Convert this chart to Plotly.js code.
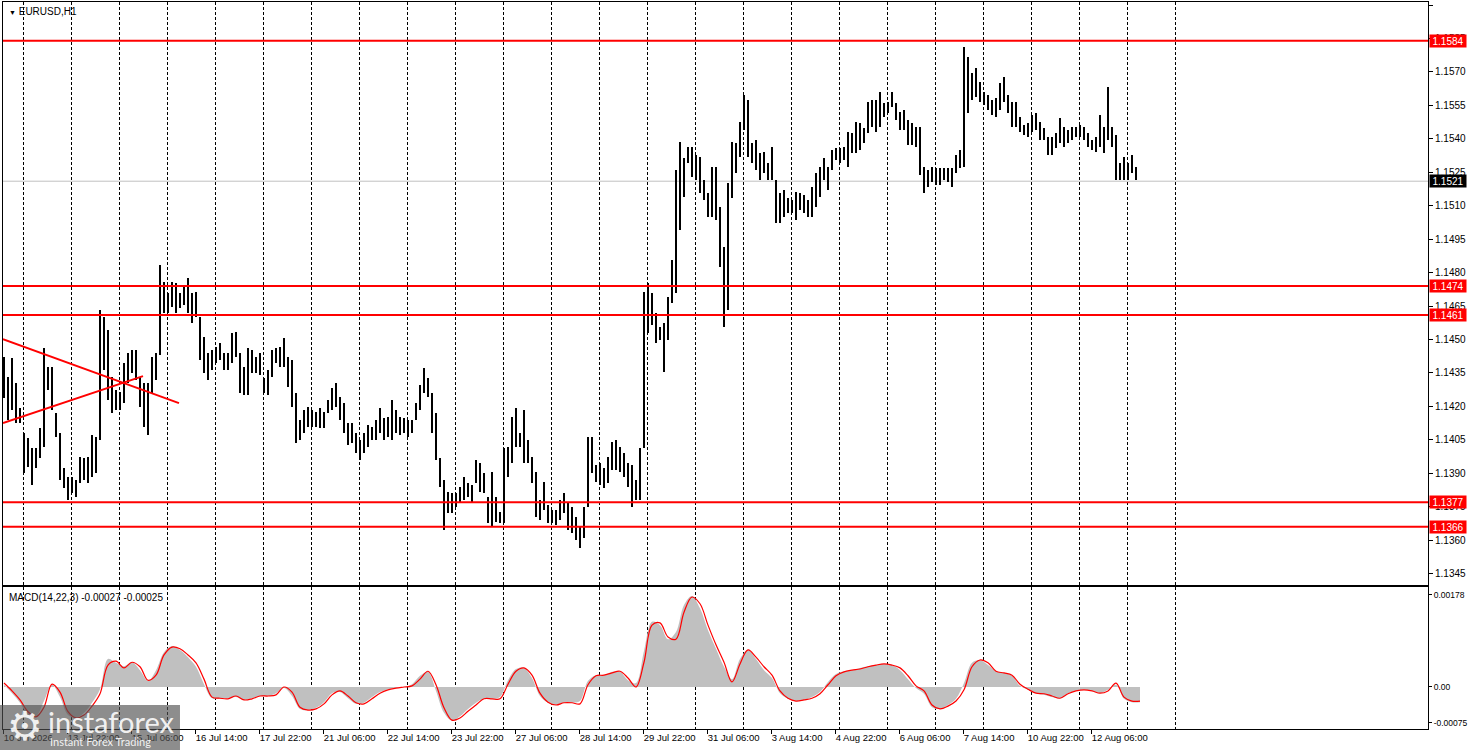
<!DOCTYPE html>
<html><head><meta charset="utf-8">
<script src="https://cdn.plot.ly/plotly-3.0.1.min.js"></script>
<style>html,body{margin:0;padding:0;background:#fff;}#chart{width:1468px;height:750px;}</style>
</head><body><div id="chart"></div>
<script>
const symbolTitle = "EURUSD,H1";
// 2-hour bars (high / low)
const highs = [
1.14422,1.14332,1.14417,1.14305,1.14193,1.14081,1.14058,1.14014,1.14014,1.14103,
1.14462,1.14377,1.14377,1.14171,1.14081,1.13924,1.13884,1.13884,1.13870,1.13973,
1.13969,1.13973,1.14072,1.14063,1.14632,1.14601,1.14543,1.14332,1.14274,1.14265,
1.14395,1.14440,1.14453,1.14453,1.14332,1.14305,1.14305,1.14422,1.14440,1.14834,
1.14758,1.14709,1.14758,1.14753,1.14709,1.14736,1.14776,1.14709,1.14713,1.14601,
1.14511,1.14440,1.14453,1.14466,1.14484,1.14440,1.14440,1.14529,1.14534,1.14440,
1.14377,1.14462,1.14453,1.14422,1.14440,1.14327,1.14363,1.14453,1.14462,1.14466,
1.14507,1.14422,1.14408,1.14260,1.14139,1.14184,1.14197,1.14184,1.14175,1.14193,
1.14175,1.14229,1.14283,1.14305,1.14242,1.14215,1.14126,1.14126,1.14081,1.14049,
1.14081,1.14117,1.14108,1.14139,1.14193,1.14148,1.14153,1.14229,1.14184,1.14153,
1.14148,1.14139,1.14139,1.14215,1.14296,1.14372,1.14327,1.14260,1.14171,1.13969,
1.13870,1.13816,1.13812,1.13812,1.13839,1.13884,1.13857,1.13848,1.13960,1.13946,
1.13901,1.13794,1.13906,1.13794,1.13727,1.14014,1.14018,1.14153,1.14193,1.14081,
1.14184,1.14049,1.13973,1.13906,1.13780,1.13861,1.13758,1.13736,1.13736,1.13780,
1.13812,1.13767,1.13749,1.13704,1.13659,1.13749,1.14063,1.14063,1.13937,1.13946,
1.13924,1.13973,1.14040,1.14049,1.14018,1.13991,1.13946,1.13937,1.13870,1.14014,
1.14713,1.14753,1.14709,1.14619,1.14556,1.14574,1.14691,1.14857,1.15260,1.15386,
1.15314,1.15363,1.15363,1.15327,1.15318,1.15215,1.15157,1.15274,1.15274,1.15094,
1.14915,1.15202,1.15386,1.15381,1.15475,1.15596,1.15574,1.15381,1.15395,1.15336,
1.15341,1.15292,1.15363,1.15215,1.15157,1.15170,1.15135,1.15126,1.15161,1.15157,
1.15148,1.15126,1.15184,1.15247,1.15274,1.15314,1.15274,1.15350,1.15359,1.15359,
1.15363,1.15431,1.15426,1.15475,1.15471,1.15448,1.15565,1.15574,1.15574,1.15610,
1.15561,1.15565,1.15610,1.15561,1.15520,1.15529,1.15484,1.15471,1.15453,1.15453,
1.15274,1.15260,1.15274,1.15269,1.15269,1.15269,1.15269,1.15269,1.15327,1.15350,
1.15812,1.15767,1.15695,1.15718,1.15655,1.15610,1.15596,1.15574,1.15583,1.15650,
1.15677,1.15596,1.15565,1.15565,1.15498,1.15462,1.15471,1.15507,1.15516,1.15475,
1.15448,1.15408,1.15408,1.15426,1.15493,1.15453,1.15439,1.15453,1.15453,1.15462,
1.15453,1.15426,1.15395,1.15408,1.15507,1.15453,1.15632,1.15453,1.15417,1.15292,
1.15318,1.15292,1.15327,1.15274
];
const lows = [
1.14238,1.14139,1.14184,1.14126,1.14126,1.13901,1.13928,1.13848,1.13924,1.13969,
1.14018,1.14274,1.14184,1.14063,1.13870,1.13834,1.13780,1.13812,1.13794,1.13857,
1.13870,1.13857,1.13884,1.13901,1.14049,1.14363,1.14229,1.14171,1.14184,1.14184,
1.14215,1.14305,1.14350,1.14318,1.14197,1.14108,1.14072,1.14260,1.14318,1.14431,
1.14619,1.14619,1.14646,1.14619,1.14641,1.14655,1.14619,1.14574,1.14601,1.14408,
1.14350,1.14318,1.14363,1.14395,1.14408,1.14363,1.14363,1.14395,1.14422,1.14260,
1.14251,1.14251,1.14350,1.14350,1.14341,1.14260,1.14251,1.14332,1.14395,1.14377,
1.14377,1.14287,1.14197,1.14036,1.14049,1.14081,1.14108,1.14108,1.14108,1.14103,
1.14103,1.14171,1.14184,1.14197,1.14139,1.14081,1.14027,1.14036,1.13991,1.13960,
1.13991,1.14018,1.14049,1.14049,1.14081,1.14049,1.14063,1.14049,1.14081,1.14072,
1.14081,1.14063,1.14081,1.14139,1.14184,1.14260,1.14242,1.14081,1.13960,1.13839,
1.13646,1.13722,1.13722,1.13749,1.13767,1.13780,1.13794,1.13767,1.13857,1.13816,
1.13812,1.13677,1.13659,1.13682,1.13677,1.13677,1.13884,1.13946,1.14018,1.14018,
1.13946,1.13946,1.13857,1.13704,1.13691,1.13736,1.13677,1.13677,1.13668,1.13691,
1.13722,1.13646,1.13632,1.13601,1.13565,1.13610,1.13749,1.13901,1.13861,1.13848,
1.13834,1.13857,1.13915,1.13915,1.13906,1.13884,1.13839,1.13749,1.13780,1.13780,
1.14014,1.14529,1.14565,1.14484,1.14498,1.14354,1.14498,1.14664,1.14709,1.14991,
1.15139,1.15292,1.15229,1.15215,1.15157,1.15126,1.15049,1.15049,1.15036,1.14825,
1.14556,1.14632,1.15135,1.15247,1.15318,1.15439,1.15318,1.15292,1.15260,1.15215,
1.15247,1.15215,1.15215,1.15022,1.15022,1.15049,1.15067,1.15067,1.15036,1.15081,
1.15067,1.15049,1.15049,1.15094,1.15139,1.15215,1.15170,1.15260,1.15305,1.15292,
1.15305,1.15274,1.15336,1.15336,1.15350,1.15381,1.15426,1.15453,1.15431,1.15453,
1.15498,1.15516,1.15543,1.15484,1.15439,1.15439,1.15372,1.15372,1.15363,1.15238,
1.15157,1.15184,1.15206,1.15193,1.15193,1.15215,1.15206,1.15184,1.15247,1.15269,
1.15274,1.15516,1.15574,1.15587,1.15565,1.15552,1.15529,1.15507,1.15498,1.15529,
1.15565,1.15516,1.15453,1.15453,1.15431,1.15417,1.15408,1.15431,1.15439,1.15395,
1.15395,1.15327,1.15327,1.15359,1.15381,1.15363,1.15381,1.15395,1.15408,1.15408,
1.15395,1.15363,1.15350,1.15341,1.15363,1.15336,1.15395,1.15363,1.15215,1.15215,
1.15215,1.15215,1.15247,1.15215
];
// horizontal support / resistance levels and current bid
const levels = [1.1584, 1.1474, 1.1461, 1.1377, 1.1366];
const currentPrice = 1.1521;
// two hand-drawn trend lines (hour index, price)
const trendAHours = [-0.5, 87.5];
const trendAPrices = [1.14502, 1.14215];
const trendBHours = [-0.5, 69.5];
const trendBPrices = [1.14126, 1.14336];
// price axis ticks
const priceTicks = [1.1345,1.1360,1.1375,1.1390,1.1405,1.1420,1.1435,1.1450,1.1465,1.1480,1.1495,1.1510,1.1525,1.1540,1.1555,1.1570,1.1585,1.1600];
// time axis labels (every 32 hourly bars)
const timeLabels = ["10 Jul 2026","13 Jul 22:00","15 Jul 06:00","16 Jul 14:00","17 Jul 22:00","21 Jul 06:00","22 Jul 14:00","23 Jul 22:00","27 Jul 06:00","28 Jul 14:00","29 Jul 22:00","31 Jul 06:00","3 Aug 14:00","4 Aug 22:00","6 Aug 06:00","7 Aug 14:00","10 Aug 22:00","12 Aug 06:00"];
// MACD(14,22,3), sampled every 4 hours
const macdHist = [
0.00004,-0.00011,-0.00028,-0.00050,-0.00052,-0.00025,0.00004,-0.00018,-0.00050,-0.00055,
-0.00046,-0.00028,-0.00004,0.00050,0.00043,0.00037,0.00044,0.00030,0.00011,0.00030,
0.00062,0.00073,0.00066,0.00053,0.00036,0.00005,-0.00020,-0.00020,-0.00020,-0.00018,
-0.00023,-0.00020,-0.00016,-0.00016,-0.00011,-0.00002,-0.00016,-0.00039,-0.00041,-0.00037,
-0.00027,-0.00011,-0.00009,-0.00020,-0.00030,-0.00028,-0.00018,-0.00009,-0.00004,-0.00002,
0.00000,0.00005,0.00020,0.00027,-0.00007,-0.00046,-0.00060,-0.00052,-0.00039,-0.00028,
-0.00021,-0.00021,-0.00018,0.00012,0.00032,0.00034,0.00016,-0.00016,-0.00028,-0.00032,
-0.00028,-0.00028,-0.00025,0.00011,0.00021,0.00021,0.00027,0.00027,0.00012,0.00007,
0.00064,0.00116,0.00110,0.00085,0.00098,0.00146,0.00162,0.00140,0.00101,0.00068,
0.00036,0.00014,0.00050,0.00066,0.00050,0.00030,0.00016,-0.00011,-0.00021,-0.00025,
-0.00023,-0.00018,-0.00009,0.00009,0.00023,0.00028,0.00030,0.00034,0.00037,0.00039,
0.00041,0.00039,0.00030,0.00014,-0.00002,-0.00012,-0.00036,-0.00039,-0.00032,-0.00021,
0.00007,0.00043,0.00048,0.00039,0.00028,0.00025,0.00020,0.00002,-0.00005,-0.00011,
-0.00014,-0.00018,-0.00020,-0.00011,-0.00007,-0.00005,-0.00007,-0.00011,-0.00005,0.00004,
-0.00021,-0.00027,-0.00027
];
const macdSignal = [
0.00007,-0.00007,-0.00023,-0.00044,-0.00053,-0.00036,0.00005,-0.00009,-0.00044,-0.00055,
-0.00050,-0.00034,-0.00012,0.00039,0.00046,0.00034,0.00044,0.00036,0.00012,0.00021,
0.00057,0.00071,0.00068,0.00057,0.00043,0.00014,-0.00018,-0.00020,-0.00021,-0.00016,
-0.00023,-0.00021,-0.00016,-0.00016,-0.00014,0.00000,-0.00009,-0.00036,-0.00041,-0.00039,
-0.00030,-0.00014,-0.00007,-0.00016,-0.00028,-0.00030,-0.00021,-0.00011,-0.00005,-0.00002,
0.00000,0.00002,0.00014,0.00028,0.00004,-0.00037,-0.00059,-0.00055,-0.00043,-0.00032,
-0.00021,-0.00021,-0.00021,0.00005,0.00028,0.00034,0.00021,-0.00011,-0.00027,-0.00032,
-0.00028,-0.00028,-0.00030,0.00004,0.00020,0.00021,0.00025,0.00028,0.00016,0.00000,
0.00044,0.00110,0.00114,0.00089,0.00085,0.00133,0.00160,0.00148,0.00110,0.00075,
0.00044,0.00009,0.00041,0.00066,0.00053,0.00036,0.00021,-0.00007,-0.00020,-0.00025,
-0.00023,-0.00020,-0.00012,0.00004,0.00020,0.00027,0.00030,0.00032,0.00036,0.00039,
0.00041,0.00039,0.00034,0.00020,0.00002,-0.00007,-0.00032,-0.00039,-0.00034,-0.00025,
-0.00005,0.00036,0.00048,0.00043,0.00028,0.00025,0.00021,0.00005,-0.00004,-0.00011,
-0.00012,-0.00016,-0.00020,-0.00012,-0.00007,-0.00005,-0.00007,-0.00011,-0.00007,0.00007,
-0.00018,-0.00025,-0.00025
];
const macdTickText = ["0.00178","0.00","-0.00075"];

// ---------- build ----------
const FONT = "Liberation Sans, Arial, sans-serif";
const barHours = highs.map((_, k) => 2 * k);
const macdHours = macdHist.map((_, j) => 4 * j);
const labelHours = timeLabels.map((_, k) => -0.4 + 32 * k);
const gridHours = [];
for (let k = 0; k <= 24; k++) gridHours.push(9.5 + 24 * k);
const XR = [-0.5, 712];

const traces = [
  {type:'bar', x:barHours, base:lows, y:highs.map((h,k)=>h-lows[k]), width:1,
   marker:{color:'#000', line:{width:0}}, xaxis:'x', yaxis:'y', hoverinfo:'skip'},
  {type:'scatter', mode:'lines', x:trendAHours, y:trendAPrices, line:{color:'#ff0000', width:2}, xaxis:'x', yaxis:'y', hoverinfo:'skip'},
  {type:'scatter', mode:'lines', x:trendBHours, y:trendBPrices, line:{color:'#ff0000', width:2}, xaxis:'x', yaxis:'y', hoverinfo:'skip'},
  {type:'scatter', mode:'lines', x:macdHours, y:macdHist, fill:'tozeroy', fillcolor:'#c0c0c0',
   line:{width:0, color:'#c0c0c0', shape:'spline'}, xaxis:'x2', yaxis:'y2', hoverinfo:'skip'},
  {type:'scatter', mode:'lines', x:macdHours, y:macdSignal, line:{color:'#ff0000', width:1.2, shape:'spline'},
   xaxis:'x2', yaxis:'y2', hoverinfo:'skip'},
  {type:'scatter', mode:'markers', x:[labelHours[1]], y:[0], marker:{opacity:0}, xaxis:'x3', yaxis:'y2', hoverinfo:'skip'}
];

const shapes = [];
shapes.push({type:'line', xref:'paper', x0:0, x1:1, yref:'y', y0:currentPrice, y1:currentPrice,
  line:{color:'#c0c0c0', width:1}, layer:'below'});
levels.forEach(v => shapes.push({type:'line', xref:'paper', x0:0, x1:1, yref:'y', y0:v, y1:v,
  line:{color:'#ff0000', width:2}, layer:'above'}));
// watermark box
shapes.push({type:'rect', xref:'paper', yref:'paper', x0:-0.0021, x1:0.1242, y0:-0.03, y1:0.033,
  fillcolor:'rgba(80,80,80,0.65)', line:{width:0}, layer:'above'});

const fmt = v => (v < 0 ? '-' : '') + Math.abs(v).toFixed(5);
const annotations = [];
annotations.push({xref:'paper', yref:'paper', x:0, y:1, xanchor:'left', yanchor:'top', xshift:4, yshift:-2,
  text:'<span style="font-size:7px">▼</span> ' + symbolTitle, showarrow:false, font:{family:FONT, size:10, color:'#000'}});
annotations.push({xref:'paper', yref:'y2 domain', x:0, y:1, xanchor:'left', yanchor:'top', xshift:4, yshift:-3,
  text:'MACD(14,22,3) ' + fmt(macdHist[macdHist.length-1]) + ' ' + fmt(macdSignal[macdSignal.length-1]),
  showarrow:false, font:{family:FONT, size:10, color:'#000'}});
levels.forEach(v => annotations.push({xref:'paper', x:1, xanchor:'left', xshift:1, yref:'y', y:v, yanchor:'middle',
  text:v.toFixed(4), width:36, height:12, align:'center', showarrow:false, bgcolor:'#ff0000', borderpad:0,
  font:{family:FONT, size:10, color:'#fff'}}));
annotations.push({xref:'paper', x:1, xanchor:'left', xshift:1, yref:'y', y:currentPrice, yanchor:'middle',
  text:currentPrice.toFixed(4), width:36, height:12, align:'center', showarrow:false, bgcolor:'#000', borderpad:0,
  font:{family:FONT, size:10, color:'#fff'}});
// watermark text
annotations.push({xref:'paper', yref:'paper', x:0.0154, y:0.004, xanchor:'center', yanchor:'middle',
  text:'⚙', showarrow:false, font:{family:'DejaVu Sans', size:40, color:'rgba(255,255,255,0.9)'}});
annotations.push({xref:'paper', yref:'paper', x:0.0305, y:0.011, xanchor:'left', yanchor:'middle',
  text:'instaforex', showarrow:false, font:{family:'Lato, Open Sans, sans-serif', size:29, color:'rgba(255,255,255,0.9)'}});
annotations.push({xref:'paper', yref:'paper', x:0.0316, y:-0.017, xanchor:'left', yanchor:'middle',
  text:'Instant Forex Trading', showarrow:false, font:{family:'Lato, Open Sans, sans-serif', size:11, color:'rgba(255,255,255,0.9)'}});

const axBase = {showline:true, linecolor:'#000', linewidth:1, mirror:true, zeroline:false, fixedrange:true};
const layout = {
  width:1468, height:750,
  margin:{l:3, r:40, t:2, b:21, pad:0},
  paper_bgcolor:'#fff', plot_bgcolor:'#fff',
  showlegend:false, bargap:0,
  xaxis:Object.assign({}, axBase, {domain:[0,1], anchor:'y', range:XR, tickmode:'array', tickvals:gridHours,
    showticklabels:false, ticks:'', showgrid:true, gridcolor:'#000', gridwidth:1, griddash:'3px,2px'}),
  yaxis:Object.assign({}, axBase, {domain:[0.1981,1], anchor:'x', side:'right', range:[1.133994,1.160135],
    tickmode:'array', tickvals:priceTicks, ticktext:priceTicks.map(v=>v.toFixed(4)), ticks:'outside', ticklen:4,
    tickcolor:'#000', showgrid:false, tickfont:{family:FONT, size:10, color:'#000'}}),
  xaxis2:Object.assign({}, axBase, {domain:[0,1], anchor:'y2', range:XR, tickmode:'array', tickvals:gridHours,
    showticklabels:false, ticks:'', showgrid:true, gridcolor:'#000', gridwidth:1, griddash:'3px,2px'}),
  xaxis3:{overlaying:'x2', anchor:'y2', side:'bottom', range:XR, tickmode:'array', tickvals:labelHours,
    ticktext:timeLabels, ticks:'outside', ticklen:4, tickcolor:'#000', ticklabelposition:'outside right',
    tickangle:0, automargin:false,
    showgrid:false, zeroline:false, showline:false, fixedrange:true, tickfont:{family:FONT, size:9.5, color:'#000'}},
  yaxis2:Object.assign({}, axBase, {domain:[0,0.1953], anchor:'x2', side:'right', range:[-0.000747,0.001778],
    tickmode:'array', tickvals:[0.001636, 0, -0.000635], ticktext:macdTickText, ticks:'outside', ticklen:3,
    tickcolor:'#000', showgrid:false, tickfont:{family:FONT, size:8.5, color:'#000'}}),
  shapes:shapes, annotations:annotations
};
Plotly.newPlot('chart', traces, layout, {staticPlot:true, displayModeBar:false});
</script></body></html>
